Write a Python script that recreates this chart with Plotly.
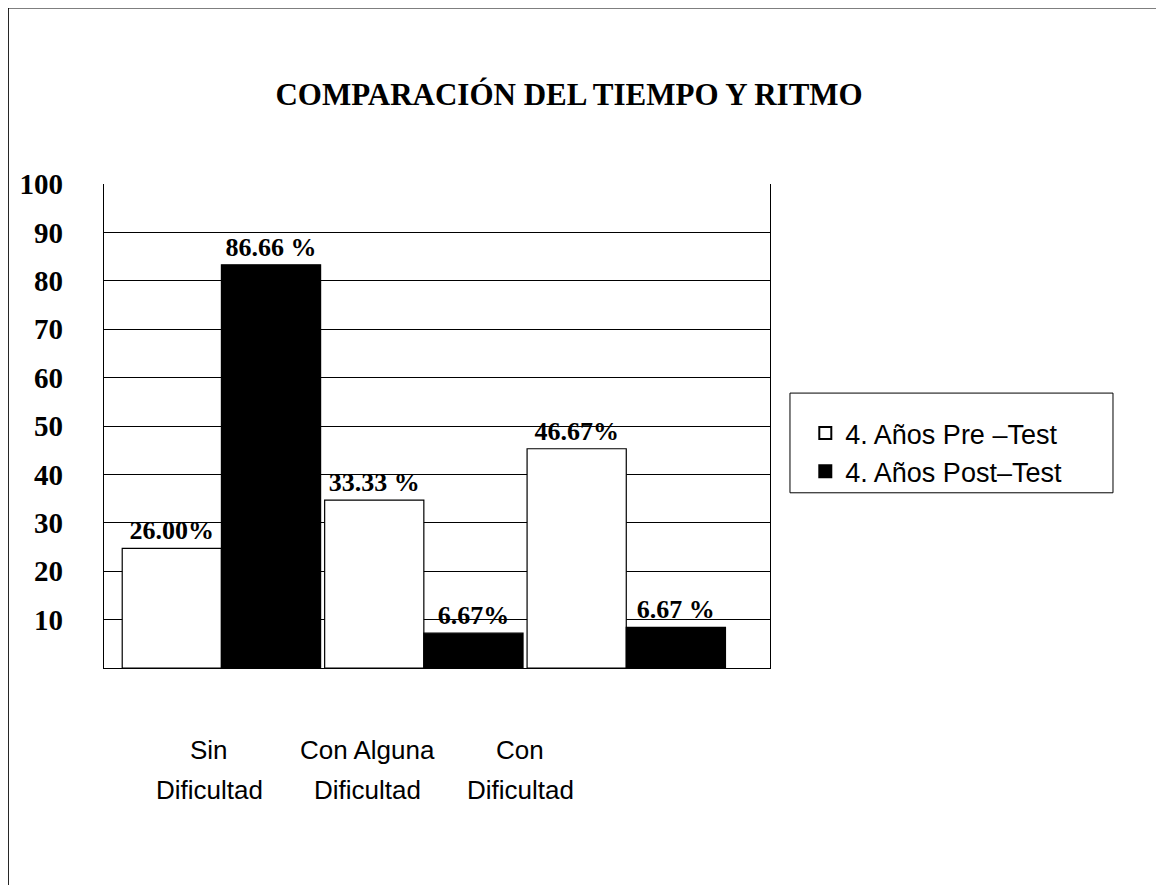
import plotly.graph_objects as go

categories = ["Sin<br>Dificultad", "Con Alguna<br>Dificultad", "Con<br>Dificultad"]
series_names = ["4. Años Pre –Test", "4. Años Post–Test"]
pre_values = [24.7, 34.7, 45.3]
post_values = [83.3, 7.2, 8.4]
pre_labels = ["26.00%", "33.33 %", "46.67%"]
post_labels = ["86.66 %", "6.67%", "6.67 %"]
y_ticks = [10, 20, 30, 40, 50, 60, 70, 80, 90, 100]
# where the category captions sit under each group (offset from group centre)
label_pos = [-0.06, 0.72, 1.475]

SERIF = "Liberation Serif, Times New Roman, serif"
SANS = "Liberation Sans, Arial, sans-serif"

fig = go.Figure()

x_idx = list(range(len(categories)))

fig.add_trace(go.Bar(
    x=x_idx, y=pre_values, name=series_names[0],
    marker=dict(color="white", line=dict(color="black", width=1.2)),
    text=pre_labels, textposition="outside", cliponaxis=False,
    textfont=dict(family=SERIF, size=26, color="black", weight="bold"),
))
fig.add_trace(go.Bar(
    x=x_idx, y=post_values, name=series_names[1],
    marker=dict(color="black", line=dict(color="black", width=1.2)),
    text=post_labels, textposition="outside", cliponaxis=False,
    textfont=dict(family=SERIF, size=26, color="black", weight="bold"),
))

# category captions, two lines each, set well below the axis
for xp, cat in zip(label_pos, categories):
    for k, line in enumerate(cat.split("<br>")):
        fig.add_annotation(
            x=xp, y=0, xref="x", yref="y", text=line, showarrow=False,
            yanchor="middle", yshift=-82 - 40 * k,
            font=dict(family=SANS, size=26, color="black"),
        )

# outer frame of the picture (runs off the right and bottom edges)
fig.add_shape(
    type="rect", xref="paper", yref="paper",
    x0=-0.144, x1=1.7, y0=-0.55, y1=1.364,
    line=dict(color="black", width=1.5), fillcolor="rgba(0,0,0,0)",
)
# legend frame
fig.add_shape(
    type="rect", xref="paper", yref="paper", layer="below",
    x0=1.03, x1=1.515, y0=0.362, y1=0.568,
    line=dict(color="black", width=1), fillcolor="white",
)

fig.update_layout(
    width=1164, height=885,
    margin=dict(l=96, r=402, t=176, b=225, autoexpand=False),
    paper_bgcolor="white", plot_bgcolor="white",
    barmode="group", bargap=0.02, bargroupgap=0,
    title=dict(
        text="<b>COMPARACIÓN DEL TIEMPO Y RITMO</b>",
        x=0.482, xanchor="center", y=0.903, yanchor="middle",
        font=dict(family=SERIF, size=31, color="black"),
    ),
    legend=dict(
        x=1.053, y=0.535, xanchor="left", yanchor="top",
        borderwidth=0, bgcolor="rgba(0,0,0,0)",
        font=dict(family=SANS, size=27, color="black"),
        itemsizing="constant", tracegroupgap=0,
    ),
    showlegend=True,
)

fig.update_xaxes(
    range=[-0.58, 2.71], showticklabels=False, showgrid=False,
    zeroline=False, showline=True, linecolor="black", linewidth=1.2,
    tickvals=x_idx, ticks="", automargin=False,
)
fig.update_yaxes(
    range=[0, 100], tickvals=y_ticks, showgrid=True, gridcolor="black",
    gridwidth=1, zeroline=False, showline=True, linecolor="black",
    linewidth=1.2, mirror=True, ticks="", ticklabelstandoff=34,
    automargin=False,
    tickfont=dict(family=SERIF, size=29, color="black", weight="bold"),
)

fig.write_html("out.html")
